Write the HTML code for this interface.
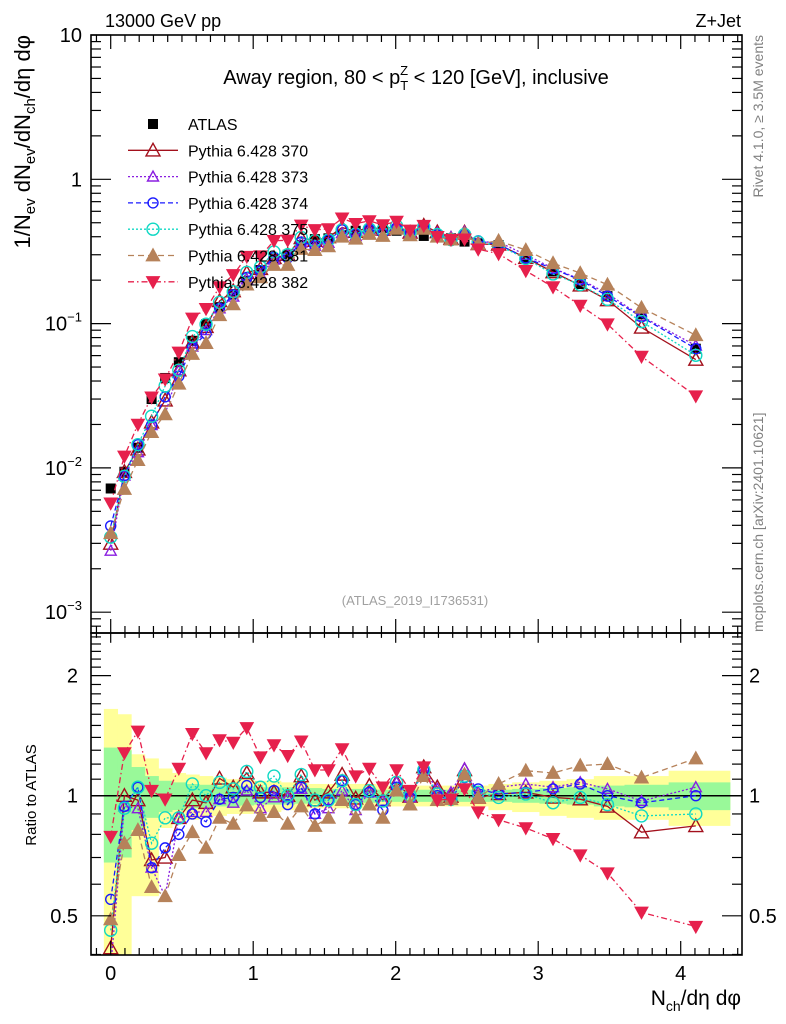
<!DOCTYPE html>
<html><head><meta charset="utf-8">
<style>
body{margin:0;background:#fff;}
svg{display:block;font-family:"Liberation Sans",Arial,sans-serif;}
</style></head>
<body>
<svg id="chart" width="786" height="1024" viewBox="0 0 786 1024" xmlns="http://www.w3.org/2000/svg">
<defs>
<clipPath id="clipMain"><rect x="91" y="35" width="651" height="598"/></clipPath>
<clipPath id="clipRatio"><rect x="91" y="633" width="651" height="322"/></clipPath>
</defs>
<g id="bands" clip-path="url(#clipRatio)"></g>
<g id="ratioMarks" clip-path="url(#clipRatio)"></g>
<g id="mainMarks" clip-path="url(#clipMain)"></g>
<g id="axes"></g>

<text x="105" y="27" font-size="18">13000 GeV pp</text>
<text x="741" y="27" font-size="18" text-anchor="end">Z+Jet</text>
<text x="416" y="84" font-size="20" text-anchor="middle">Away region, 80 &lt; p<tspan font-size="13" dy="6">T</tspan><tspan font-size="13" dx="-8" dy="-15">Z</tspan><tspan dy="9"> &lt; 120 [GeV], inclusive</tspan></text>
<text x="415" y="605" font-size="13" fill="#a0a0a0" text-anchor="middle">(ATLAS_2019_I1736531)</text>
<text transform="translate(763,35) rotate(-90)" font-size="14" fill="#808080" text-anchor="end">Rivet 4.1.0, ≥ 3.5M events</text>
<text transform="translate(763,632) rotate(-90)" font-size="14" fill="#808080" text-anchor="start">mcplots.cern.ch [arXiv:2401.10621]</text>
<text transform="translate(30,35) rotate(-90)" font-size="22" text-anchor="end">1/N<tspan font-size="15" dy="5">ev</tspan><tspan dy="-5"> dN</tspan><tspan font-size="15" dy="5">ev</tspan><tspan dy="-5">/dN</tspan><tspan font-size="15" dy="5">ch</tspan><tspan dy="-5">/dη dφ</tspan></text>
<text transform="translate(36,795) rotate(-90)" font-size="15" text-anchor="middle">Ratio to ATLAS</text>
<text x="741" y="1005" font-size="21" text-anchor="end">N<tspan font-size="14" dy="6">ch</tspan><tspan dy="-6">/dη dφ</tspan></text>
<g id="legend"></g>
</svg>
<script>
const xs = [0,0.096,0.191,0.287,0.382,0.478,0.573,0.669,0.764,0.860,0.955,1.051,1.146,1.242,1.337,1.433,1.528,1.624,1.719,1.815,1.910,2.006,2.101,2.197,2.292,2.388,2.483,2.579,2.722,2.913,3.104,3.295,3.486,3.725,4.106];
const atlas = [0.0072,0.0094,0.0138,0.030,0.042,0.054,0.076,0.099,0.13,0.16,0.197,0.235,0.28,0.30,0.35,0.385,0.39,0.41,0.44,0.44,0.46,0.44,0.43,0.405,0.41,0.39,0.37,0.36,0.35,0.28,0.23,0.188,0.155,0.116,0.067];
const r370 = [0.415,1.0,0.975,0.69,0.70,0.88,0.975,0.96,1.105,1.05,1.14,1.02,1.02,1.0,1.12,0.975,1.02,1.13,0.985,1.06,0.975,1.08,0.995,1.18,1.05,0.995,1.16,0.99,1.01,1.02,0.99,0.98,0.94,0.81,0.84];
const r373 = [0.37,0.94,0.93,0.66,0.56,0.88,0.91,0.91,0.98,0.96,1.03,0.93,0.99,0.99,1.04,0.90,0.93,1.03,0.92,1.02,0.97,1.08,0.99,1.16,1.04,1.02,1.17,1.02,1.05,1.07,1.05,1.08,1.04,0.97,1.05];
const r374 = [0.55,0.94,1.05,0.66,0.74,0.80,0.90,0.86,0.98,0.99,1.06,0.99,1.03,0.95,1.05,0.90,0.975,1.09,0.95,1.02,0.92,1.05,0.99,1.16,1.0,0.975,1.11,1.04,1.01,1.02,1.04,1.07,1.0,0.96,1.0];
const r375 = [0.46,0.93,1.05,0.76,0.88,0.88,1.07,1.0,1.08,1.04,1.15,1.05,1.12,1.0,1.13,0.975,0.975,1.09,0.95,1.03,0.97,1.08,1.0,1.16,1.01,0.98,1.12,1.02,0.99,1.01,0.96,0.99,0.95,0.89,0.90];
const r381 = [0.49,0.76,0.82,0.59,0.56,0.71,0.81,0.74,0.88,0.85,0.945,0.89,0.91,0.85,0.94,0.84,0.88,0.975,0.88,0.95,0.88,1.03,0.95,1.12,0.975,0.98,1.13,0.99,1.07,1.155,1.14,1.19,1.2,1.11,1.24];
const r382 = [0.79,1.28,1.45,1.03,0.98,1.17,1.43,1.28,1.38,1.36,1.48,1.25,1.34,1.26,1.37,1.16,1.16,1.31,1.12,1.17,1.05,1.16,1.03,1.18,0.975,0.98,1.04,0.91,0.87,0.83,0.78,0.71,0.64,0.51,0.47];
const totHi = [0.65,0.60,0.27,0.24,0.17,0.14,0.13,0.12,0.11,0.10,0.10,0.09,0.09,0.08,0.08,0.07,0.07,0.07,0.07,0.07,0.06,0.06,0.06,0.06,0.06,0.06,0.06,0.06,0.07,0.08,0.09,0.10,0.12,0.12,0.155];
const totLo = [0.60,0.60,0.44,0.44,0.17,0.14,0.13,0.12,0.11,0.10,0.10,0.09,0.09,0.08,0.08,0.07,0.07,0.07,0.07,0.07,0.06,0.06,0.06,0.06,0.06,0.06,0.06,0.06,0.08,0.09,0.11,0.12,0.13,0.13,0.16];
const statErr = [0.32,0.30,0.18,0.12,0.09,0.08,0.07,0.065,0.06,0.06,0.055,0.05,0.05,0.05,0.045,0.045,0.04,0.04,0.04,0.04,0.035,0.035,0.035,0.035,0.035,0.035,0.035,0.035,0.035,0.04,0.045,0.05,0.06,0.065,0.08];
const xTicks = [0,1,2,3,4];
const mainTickLabels = ["10","1","10⁻¹","10⁻²","10⁻³"];
const ratioTickVals = [0.5,1,2];
const ratioTickLabels = ["0.5","1","2"];

const NS="http://www.w3.org/2000/svg";
const X = v => 110.7 + v*142.5;
const Y = v => 35 + (1 - Math.log10(v))*144.3;
const R = r => 795.7 - Math.log10(r)*399;
function mk(tag, attrs, parent){const e=document.createElementNS(NS,tag);for(const k in attrs)e.setAttribute(k,attrs[k]);parent.appendChild(e);return e;}

const series = [
 {id:"370",r:r370,color:"#a3101c",dash:"",marker:"tri-open",size:7},
 {id:"373",r:r373,color:"#8a1ee0",dash:"2,2",marker:"tri-open",size:5.5},
 {id:"374",r:r374,color:"#1a1aff",dash:"5,3",marker:"circ-open",size:5},
 {id:"375",r:r375,color:"#10d8c4",dash:"2,2",marker:"circ-open",size:6},
 {id:"381",r:r381,color:"#b6825a",dash:"6,4",marker:"tri-fill",size:6.5},
 {id:"382",r:r382,color:"#e6204c",dash:"6,3,1.5,3",marker:"tri-down",size:6.5}
];

function marker(g,type,cx,cy,s,color){
  let e;
  if(type==="tri-open"||type==="tri-fill"){
    e=mk("polygon",{points:`${cx},${cy-s} ${cx-s},${cy+s*0.8} ${cx+s},${cy+s*0.8}`,fill:type==="tri-fill"?color:"#fff","fill-opacity":type==="tri-fill"?1:0,stroke:color,"stroke-width":1.4},g);
  } else if(type==="tri-down"){
    e=mk("polygon",{points:`${cx},${cy+s} ${cx-s},${cy-s*0.8} ${cx+s},${cy-s*0.8}`,fill:color,stroke:color,"stroke-width":1},g);
  } else if(type==="circ-open"){
    e=mk("circle",{cx:cx,cy:cy,r:s,fill:"none",stroke:color,"stroke-width":1.4},g);
  } else {
    e=mk("rect",{x:cx-5,y:cy-5,width:10,height:10,fill:"#000"},g);
  }
  return e;
}

const bandG=document.getElementById("bands");
const edges=[];
edges.push(xs[0]-0.048);
for(let i=0;i<xs.length-1;i++) edges.push((xs[i]+xs[i+1])/2);
edges.push(4.345);
for(let i=0;i<xs.length;i++){
  const x0=X(edges[i]), x1=X(edges[i+1]);
  const yb=mk("rect",{x:x0,y:R(1+totHi[i]),width:x1-x0+0.5,height:R(Math.max(1-totLo[i],0.05))-R(1+totHi[i]),fill:"#ffff99"},bandG);
  
  
}
for(let i=0;i<xs.length;i++){
  const x0=X(edges[i]), x1=X(edges[i+1]);
  const gb=mk("rect",{x:x0,y:R(1+statErr[i]),width:x1-x0+0.5,height:R(1-statErr[i])-R(1+statErr[i]),fill:"#99f999"},bandG);
  
  
}
const one=mk("line",{x1:91,x2:742,y1:R(1),y2:R(1),stroke:"#000","stroke-width":1.5},bandG);



const mainG=document.getElementById("mainMarks"), ratioG=document.getElementById("ratioMarks");
const ga=mk("g",{},mainG);


xs.forEach((x,i)=>{
  const m=marker(ga,"square",X(x),Y(atlas[i]),5,"#000");
  
  
});
series.forEach(s=>{
  const gm=mk("g",{},mainG);
  
  
  const gr=mk("g",{},ratioG);
  
  
  const pm=xs.map((x,i)=>X(x).toFixed(1)+","+Y(atlas[i]*s.r[i]).toFixed(1)).join(" ");
  const pr=xs.map((x,i)=>X(x).toFixed(1)+","+R(s.r[i]).toFixed(1)).join(" ");
  const l1=mk("polyline",{points:pm,fill:"none",stroke:s.color,"stroke-width":1.3,"stroke-dasharray":s.dash},gm);
  
  
  const l2=mk("polyline",{points:pr,fill:"none",stroke:s.color,"stroke-width":1.3,"stroke-dasharray":s.dash},gr);
  
  
  xs.forEach((x,i)=>{
    const m1=marker(gm,s.marker,X(x),Y(atlas[i]*s.r[i]),s.size,s.color);
    
    
    const m2=marker(gr,s.marker,X(x),R(s.r[i]),s.size,s.color);
    
    
  });
});

const ax=document.getElementById("axes");
function ln(x1,y1,x2,y2,w){return mk("line",{x1:x1,y1:y1,x2:x2,y2:y2,stroke:"#000","stroke-width":w||1.2},ax);}
mk("rect",{x:91,y:35,width:651,height:598,fill:"none",stroke:"#000","stroke-width":1.6},ax);
mk("rect",{x:91,y:633,width:651,height:322,fill:"none",stroke:"#000","stroke-width":1.6},ax);
for(let k=-1;k<=44;k++){
  const v=k/10, px=X(v); if(px<91||px>742) continue;
  const major=(k%10===0), L=major?14:7;
  ln(px,35,px,35+L); ln(px,633,px,633-L); ln(px,633,px,633+L*0.7); ln(px,955,px,955-L);
}
xTicks.forEach(v=>{
  const t=mk("text",{x:X(v),y:980,"font-size":20,"text-anchor":"middle"},ax);
  t.textContent=v;
  
  
});
for(let d=-4;d<=1;d++){
  for(let m=1;m<=9;m++){
    const v=m*Math.pow(10,d), py=Y(v); if(py<35||py>633) continue;
    const L=m===1?20:10;
    ln(91,py,91+L,py); ln(742,py,742-L,py);
  }
}
mainTickLabels.forEach((lab,i)=>{
  const v=Math.pow(10,1-i);
  const t=mk("text",{x:82,y:Y(v)+7,"font-size":20,"text-anchor":"end"},ax);
  if(i<2){t.textContent=lab;} else {t.textContent="10";const s=mk("tspan",{"font-size":13,dy:-9},t);s.textContent="−"+(i-1);}
  
  
});
for(let v=0.4;v<=2.55;v+=0.1){
  const r=Math.round(v*10)/10, py=R(r); if(py<633||py>955) continue;
  const major=ratioTickVals.includes(r), L=major?20:10;
  ln(91,py,91+L,py); ln(742,py,742-L,py);
}
ratioTickVals.forEach((v,i)=>{
  const t=mk("text",{x:78,y:R(v)+7,"font-size":20,"text-anchor":"end"},ax);
  t.textContent=ratioTickLabels[i];
  
  
  const t2=mk("text",{x:749,y:R(v)+7,"font-size":20,"text-anchor":"start"},ax);
  t2.textContent=ratioTickLabels[i];
  
  
});

const lg=document.getElementById("legend");
const legNames=["ATLAS","Pythia 6.428 370","Pythia 6.428 373","Pythia 6.428 374","Pythia 6.428 375","Pythia 6.428 381","Pythia 6.428 382"];
legNames.forEach((name,i)=>{
  const y=124+i*26.3;
  const g=mk("g",{},lg);
  
  
  if(i===0){ marker(g,"square",153,y,5,"#000"); }
  else{
    const s=series[i-1];
    mk("line",{x1:128,x2:178,y1:y,y2:y,stroke:s.color,"stroke-width":1.3,"stroke-dasharray":s.dash},g);
    marker(g,s.marker,153,y,s.size,s.color);
  }
  const t=mk("text",{x:188,y:y+6,"font-size":16},g);
  t.textContent=name;
});
</script>
</body></html>
